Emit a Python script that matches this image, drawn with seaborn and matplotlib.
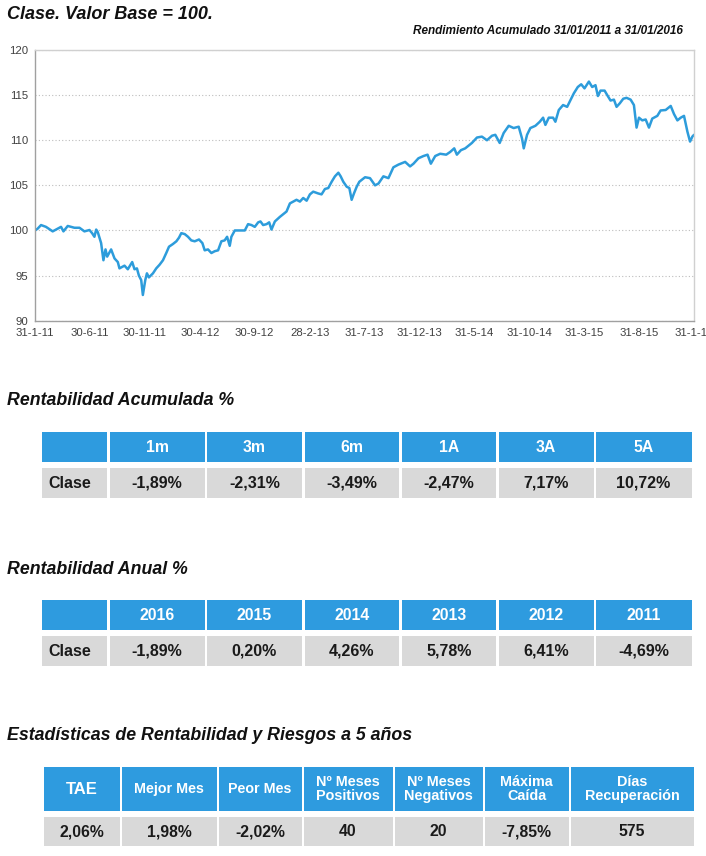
import matplotlib
matplotlib.use("Agg")
import matplotlib.pyplot as plt
import seaborn as sns
import pandas as pd
from matplotlib.patches import Rectangle

# ---------------- data ----------------
months = [0.0, 0.24, 0.55, 1.0, 1.61, 2.07, 2.37, 2.59, 2.98, 3.59, 4.05, 4.5, 4.96, 5.2, 5.41,
          5.57, 5.72, 6.02, 6.23, 6.42, 6.57, 6.93, 7.24, 7.54, 7.69, 8.15, 8.45, 8.85, 9.06,
          9.28, 9.46, 9.67, 9.82, 10.04, 10.19, 10.37, 10.74, 11.04, 11.34, 11.65, 11.95, 12.2,
          12.56, 12.87, 13.11, 13.32, 13.63, 13.93, 14.23, 14.54, 14.93, 15.24, 15.45, 15.75,
          16.06, 16.36, 16.67, 16.97, 17.27, 17.49, 17.73, 17.88, 18.19, 18.64, 19.1, 19.4,
          19.71, 20.01, 20.32, 20.53, 20.77, 21.08, 21.32, 21.53, 21.84, 22.29, 22.6, 22.9,
          23.21, 23.51, 23.81, 24.12, 24.42, 24.73, 25.03, 25.33, 25.79, 26.09, 26.4, 26.7,
          27.01, 27.31, 27.62, 27.83, 28.07, 28.38, 28.62, 28.83, 29.04, 29.29, 29.53,
          30.05, 30.5, 30.96, 31.27, 31.72, 32.18, 32.63, 33.09, 33.7, 34.15, 34.46, 34.91,
          35.37, 35.74, 36.04, 36.44, 36.89, 37.44, 37.8, 38.17, 38.41, 38.78, 39.17, 39.48,
          39.78, 40.24, 40.69, 41.15, 41.61, 41.91, 42.31, 42.67, 43.13, 43.58, 44.04, 44.34,
          44.5, 44.8, 45.1, 45.56, 45.96, 46.26, 46.47, 46.78, 47.17, 47.38, 47.69, 48.08,
          48.45, 48.75, 49.06, 49.42, 49.73, 50.03, 50.43, 50.73, 51.03, 51.25, 51.49, 51.86,
          52.1, 52.4, 52.71, 52.95, 53.25, 53.56, 53.86, 54.23, 54.53, 54.77, 54.99, 55.29,
          55.6, 55.9, 56.2, 56.66, 56.96, 57.42, 57.88, 58.18, 58.49, 58.79, 59.09, 59.4,
          59.64, 59.85, 60.0]
values = [100.0, 100.2, 100.6, 100.4, 99.9, 100.2, 100.4, 99.9, 100.5, 100.3, 100.3, 99.9,
          100.05, 99.7, 99.3, 100.1, 99.8, 98.6, 96.7, 97.9, 97.1, 97.9, 96.9, 96.5, 95.8,
          96.1, 95.7, 96.5, 95.7, 95.8, 95.0, 94.5, 92.85, 94.5, 95.25, 94.8, 95.25, 95.8,
          96.2, 96.7, 97.5, 98.2, 98.5, 98.8, 99.2, 99.7, 99.6, 99.3, 98.9, 98.8, 99.0, 98.6,
          97.8, 97.9, 97.5, 97.7, 97.8, 98.8, 98.9, 99.3, 98.3, 99.3, 100.0, 100.0, 100.0,
          100.7, 100.6, 100.4, 100.9, 101.0, 100.6, 100.7, 100.9, 100.1, 101.0, 101.5, 101.8,
          102.1, 103.0, 103.2, 103.4, 103.2, 103.6, 103.3, 104.0, 104.3, 104.1, 104.0, 104.6,
          104.7, 105.4, 106.0, 106.4, 106.0, 105.4, 104.85, 104.7, 103.4, 104.1, 104.85, 105.4,
          105.9, 105.8, 105.0, 105.2, 106.0, 105.8, 107.0, 107.3, 107.6, 107.1, 107.4, 108.0,
          108.25, 108.4, 107.4, 108.25, 108.5, 108.4, 108.7, 109.1, 108.4, 108.9, 109.1, 109.4,
          109.7, 110.3, 110.4, 110.0, 110.5, 110.6, 109.7, 110.8, 111.6, 111.35, 111.5, 110.2,
          109.1, 110.6, 111.35, 111.6, 112.05, 112.5, 111.7, 112.5, 112.5, 112.05, 113.35,
          113.9, 113.7, 114.45, 115.2, 115.9, 116.2, 115.75, 116.5, 115.9, 116.1, 114.9, 115.5,
          115.5, 115.0, 114.4, 114.5, 113.7, 114.1, 114.6, 114.7, 114.5, 113.9, 111.4, 112.5,
          112.2, 112.3, 111.4, 112.4, 112.7, 113.3, 113.35, 113.8, 112.9, 112.2, 112.5, 112.7,
          110.95, 109.85, 110.4, 110.6]
tick_months = [0, 5, 10, 15, 20, 25, 30, 35, 40, 45, 50, 55, 60]
tick_labels = ["31-1-11", "30-6-11", "30-11-11", "30-4-12", "30-9-12", "28-2-13", "31-7-13",
               "31-12-13", "31-5-14", "31-10-14", "31-3-15", "31-8-15", "31-1-16"]
y_ticks = [90, 95, 100, 105, 110, 115, 120]

row_label = "Clase"
acum_periods = ["1m", "3m", "6m", "1A", "3A", "5A"]
acum_values = ["-1,89%", "-2,31%", "-3,49%", "-2,47%", "7,17%", "10,72%"]
anual_years = ["2016", "2015", "2014", "2013", "2012", "2011"]
anual_values = ["-1,89%", "0,20%", "4,26%", "5,78%", "6,41%", "-4,69%"]
stats_headers = ["TAE", "Mejor Mes", "Peor Mes", "Nº Meses\nPositivos", "Nº Meses\nNegativos",
                 "Máxima\nCaída", "Días\nRecuperación"]
stats_values = ["2,06%", "1,98%", "-2,02%", "40", "20", "-7,85%", "575"]

# ---------------- style ----------------
sns.set_style("white")
plt.rcParams['font.family'] = ['Liberation Sans', 'DejaVu Sans']

BLUE = "#2E9BDF"
LINE = "#2D9CDB"
GRAY = "#D9D9D9"
TXT = "#1a1a1a"
W, H = 706, 856

fig = plt.figure(figsize=(W / 100, H / 100), dpi=100)

# overlay axes in pixel coordinates for texts and tables
ov = fig.add_axes([0, 0, 1, 1])
ov.set_xlim(0, W)
ov.set_ylim(H, 0)
ov.axis('off')

# ---------------- line chart ----------------
L, R, T, B = 35, 694, 50, 320.7
ax = fig.add_axes([L / W, 1 - B / H, (R - L) / W, (B - T) / H])
df = pd.DataFrame({"mes": months, "valor": values})
sns.lineplot(data=df, x="mes", y="valor", ax=ax, color=LINE, linewidth=1.8)
ax.set_xlim(0, 60)
ax.set_ylim(90, 120)
ax.set_xticks(tick_months)
ax.set_xticklabels(tick_labels)
ax.set_yticks(y_ticks)
ax.set_xlabel("")
ax.set_ylabel("")
ax.tick_params(axis='both', labelsize=8.2, colors="#404040", length=3, width=0.8, pad=2,
               color="#999999")
ax.tick_params(axis='x', pad=2.5)
for t in ax.get_xticklabels() + ax.get_yticklabels():
    t.set_color("#404040")
for s in ['top', 'right']:
    ax.spines[s].set_color("#D0D0D0")
    ax.spines[s].set_linewidth(1.0)
for s in ['left', 'bottom']:
    ax.spines[s].set_color("#A0A0A0")
    ax.spines[s].set_linewidth(1.0)
ax.grid(axis='y', linestyle=(0, (1, 2)), color="#BDBDBD", linewidth=0.8)
ax.set_axisbelow(True)

# ---------------- texts ----------------
ov.text(7, 14, "Clase. Valor Base = 100.", fontsize=13, fontweight='bold', fontstyle='italic',
        va='center', ha='left', color="#111111")
ov.text(683, 31, "Rendimiento Acumulado 31/01/2011 a 31/01/2016", fontsize=8.5,
        fontweight='bold', fontstyle='italic', va='center', ha='right', color="#111111")
for y, txt in [(400, "Rentabilidad Acumulada %"), (569, "Rentabilidad Anual %"),
               (735, "Estadísticas de Rentabilidad y Riesgos a 5 años")]:
    ov.text(7, y, txt, fontsize=12.8, fontweight='bold', fontstyle='italic', va='center',
            ha='left', color="#111111")


def cell(x0, x1, y0, y1, color, text, tcolor, size):
    ov.add_patch(Rectangle((x0, y0), x1 - x0, y1 - y0, facecolor=color, edgecolor='none'))
    if text:
        ov.text((x0 + x1) / 2, (y0 + y1) / 2 + 0.5, text, ha='center', va='center',
                fontsize=size, fontweight='bold', color=tcolor, linespacing=1.05)


cols6 = [(42, 107), (109.5, 205), (207, 302), (304.5, 399), (401.5, 496), (498.5, 593.5),
         (595.5, 691.5)]


def table6(headers, vals, hy, dy):
    x0, x1 = cols6[0]
    cell(x0, x1, hy[0], hy[1], BLUE, "", "white", 11)
    cell(x0, x1, dy[0], dy[1], GRAY, "", TXT, 11)
    ov.text(x0 + 6, (dy[0] + dy[1]) / 2 + 0.5, row_label, ha='left', va='center',
            fontsize=11.5, fontweight='bold', color=TXT)
    for (a, b), h, v in zip(cols6[1:], headers, vals):
        cell(a, b, hy[0], hy[1], BLUE, h, "white", 11.3)
        cell(a, b, dy[0], dy[1], GRAY, v, TXT, 11.5)


table6(acum_periods, acum_values, (432, 462), (467.5, 497.5))
table6(anual_years, anual_values, (600, 630), (635.5, 665.5))

cols7 = [(43.5, 119.5), (121.5, 216.5), (218.5, 301.5), (303.5, 392.5), (394.5, 482.5),
         (484.5, 568.5), (570.5, 693.5)]
for (a, b), h, v in zip(cols7, stats_headers, stats_values):
    size = 10.4 if "\n" in h else 10.3
    if h == "TAE":
        size = 12
    cell(a, b, 766.5, 810.5, BLUE, h, "white", size)
    cell(a, b, 816.5, 846, GRAY, v, TXT, 11.3)

fig.savefig("out.png", dpi=100)
